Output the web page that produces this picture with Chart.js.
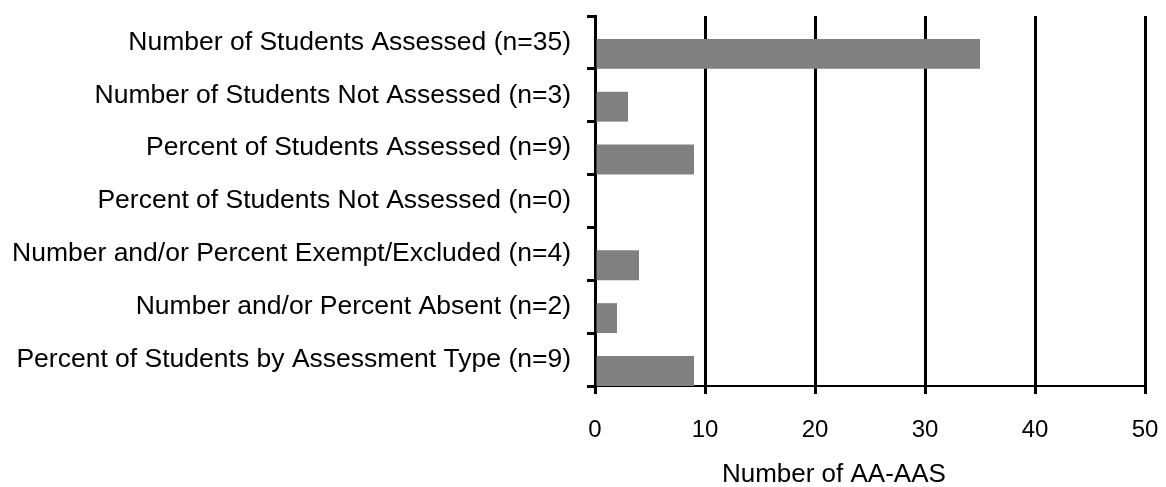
<!DOCTYPE html>
<html>
<head>
<meta charset="utf-8">
<script src="https://cdn.jsdelivr.net/npm/chart.js@4/dist/chart.umd.min.js"></script>
<style>
    html, body { margin: 0; padding: 0; background: #fff; }
    #wrap { width: 1166px; height: 487px; position: relative; }
</style>
</head>
<body>
<div id="wrap"><canvas id="chartMain"></canvas></div>
<script>
const categories = [
    'Number of Students Assessed (n=35)',
    'Number of Students Not Assessed (n=3)',
    'Percent of Students Assessed (n=9)',
    'Percent of Students Not Assessed (n=0)',
    'Number and/or Percent Exempt/Excluded (n=4)',
    'Number and/or Percent Absent (n=2)',
    'Percent of Students by Assessment Type (n=9)'
];
const counts = [35, 3, 9, 0, 4, 2, 9];
// empty slot so the bar sits in the lower part of each row, like the original
const spacer = [null, null, null, null, null, null, null];
const xTicks = [0, 10, 20, 30, 40, 50];

const FONT = "'Liberation Sans', Arial, sans-serif";

new Chart(document.getElementById('chartMain'), {
    type: 'bar',
    data: {
        labels: categories,
        datasets: [
            { label: 'spacer', data: spacer, backgroundColor: 'transparent' },
            { label: 'Number of AA-AAS', data: counts, backgroundColor: '#808080' }
        ]
    },
    options: {
        indexAxis: 'y',
        responsive: true, maintainAspectRatio: false,
        animation: false,
        categoryPercentage: 0.8625,
        barPercentage: 1.31,
        layout: { padding: { top: 0, right: 21, bottom: 0, left: 0 } },
        plugins: { legend: { display: false }, tooltip: { enabled: false } },
        scales: {
            x: {
                min: 0, max: 50,
                afterBuildTicks: axis => { axis.ticks = xTicks.map(v => ({ value: v })); },
                ticks: { color: '#000', font: { family: FONT, size: 24, lineHeight: '72px' }, padding: 0, maxRotation: 0 },
                grid: { color: '#000', lineWidth: 3, tickLength: 8, tickColor: '#000', tickWidth: 3 },
                border: { color: '#000', width: 2 },
                title: {
                    display: true, text: 'Number of AA-AAS          ',
                    color: '#000', font: { family: FONT, size: 26, lineHeight: '18px' },
                    padding: { top: 0, bottom: 3 }
                }
            },
            y: {
                // long labels: the left axis needs more than half the width
                afterFit: axis => { axis.width = 595; },
                ticks: { color: '#000', font: { family: FONT, size: 26.5, lineHeight: 0 }, padding: 16, autoSkip: false },
                grid: { drawOnChartArea: false, tickLength: 8, tickColor: '#000', tickWidth: 3 },
                border: { color: '#000', width: 3 }
            }
        }
    }
});
</script>
</body>
</html>
